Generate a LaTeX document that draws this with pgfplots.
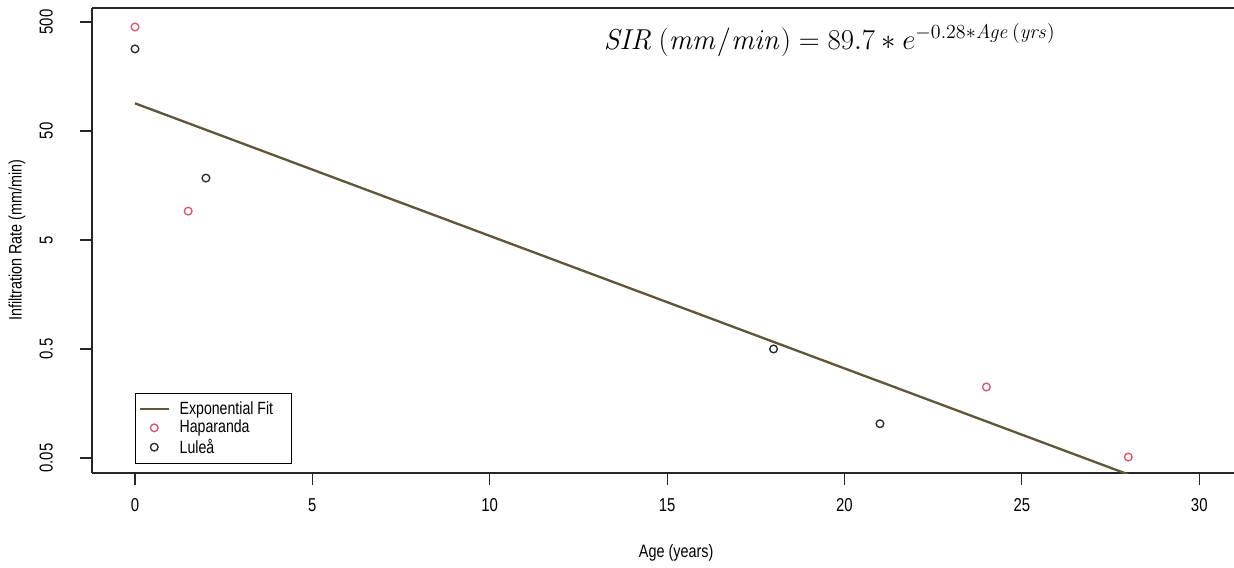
\documentclass[border=0pt]{standalone}
\usepackage[no-math]{fontspec}
\setmainfont[FakeStretch=0.8]{Liberation Sans}
\usepackage{pgfplots}
\pgfplotsset{compat=1.18}
\definecolor{fitc}{RGB}{98,86,56}
\definecolor{hapc}{RGB}{223,83,107}
\definecolor{lulc}{RGB}{40,40,40}
\begin{document}
\begin{tikzpicture}
\begin{axis}[
  scale only axis,
  width=685.2pt, height=279pt,
  xmin=-1.212, xmax=30.98,
  ymode=log, ymin=0.0364, ymax=672,
  axis x line*=box, axis y line*=left,
  xtick={0,5,10,15,20,25,30},
  ytick={0.05,0.5,5,50,500},
  yticklabels={0.05,0.5,5,50,500},
  xtick pos=lower, ytick pos=left,
  xminorticks=false, yminorticks=false,
  tick align=outside,
  major tick length=7pt,
  axis line style={line width=0.9pt, black!85},
  tick style={line width=0.7pt, black!85},
  tick label style={font=\fontsize{11.2}{12}\selectfont},
  /pgf/number format/assume math mode=true,
  yticklabel style={rotate=90, anchor=south, yshift=13pt},
  xticklabel style={anchor=north},
  xticklabel shift=5pt,
  xlabel={Age (years)},
  ylabel={Infiltration Rate (mm/min)},
  label style={font=\fontsize{10.8}{12}\selectfont},
  xlabel style={at={(axis description cs:0.5115,-0.172)}, anchor=center},
  ylabel style={at={(axis description cs:-0.0657,0.501)}, anchor=center},
  legend style={at={(rel axis cs:0.0377,0.172)}, anchor=north west,
    draw=black, line width=0.6pt, font=\fontsize{10.6}{10.2}\selectfont,
    row sep=-2pt, inner xsep=2pt, inner ysep=2.8pt,
    /tikz/every odd column/.append style={column sep=4pt}},
  legend cell align=left,
  clip=true,
]
\addplot[fitc, line width=1.4pt] coordinates {(0,89.7) (28,0.035312)};
\addlegendentry{Exponential Fit\kern7pt}
\addplot[only marks, mark=o, mark size=2.3pt, hapc, mark options={line width=0.8pt}]
  coordinates {(0,450) (1.5,9.2) (24,0.224) (28,0.051)};
\addlegendentry{Haparanda}
\addplot[only marks, mark=o, mark size=2.3pt, lulc, mark options={line width=0.8pt}]
  coordinates {(0,283) (2,18.5) (18,0.5) (21,0.103)};
\addlegendentry{Luleå}
\node[anchor=center, font=\fontsize{17}{18}\selectfont] at (rel axis cs:0.646,0.931)
  {$\mathit{SIR}\ (\mathit{mm}/\mathit{min}) = 89.7 * e^{-0.28*\mathit{Age}\,(\mathit{yrs})}$};
\end{axis}
\pgfresetboundingbox
\useasboundingbox (current axis.south west) ++(-55.2pt,-56.4pt) rectangle ++(740.4pt,340.2pt);
\end{tikzpicture}
\end{document}
